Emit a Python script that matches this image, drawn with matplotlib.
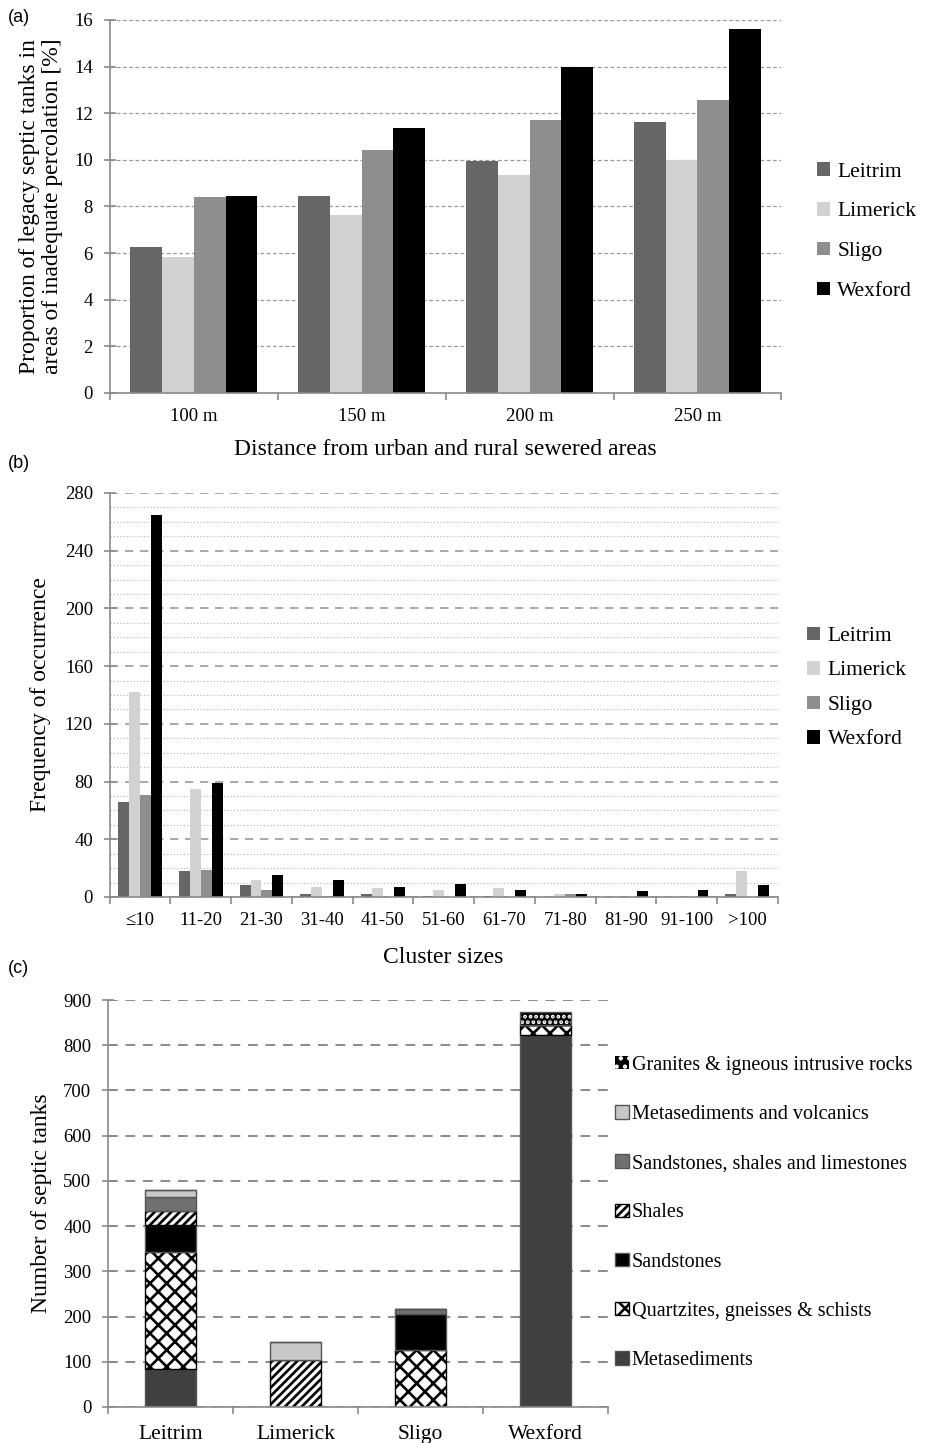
import numpy as np
import matplotlib
matplotlib.use("Agg")
import matplotlib.pyplot as plt

plt.rcParams['font.family'] = ['Liberation Serif', 'DejaVu Serif']
plt.rcParams['hatch.linewidth'] = 1.9

counties = ['Leitrim', 'Limerick', 'Sligo', 'Wexford']
county_colors = ['#666666', '#d2d2d2', '#8e8e8e', '#000000']

# (a) proportion of legacy septic tanks in areas of inadequate percolation [%]
distances = ['100 m', '150 m', '200 m', '250 m']
prop_leitrim = [6.25, 8.45, 9.95, 11.6]
prop_limerick = [5.85, 7.65, 9.35, 10.0]
prop_sligo = [8.4, 10.4, 11.7, 12.55]
prop_wexford = [8.45, 11.35, 14.0, 15.6]

# (b) frequency of occurrence by cluster size
clusters = ['\u226410', '11-20', '21-30', '31-40', '41-50', '51-60',
            '61-70', '71-80', '81-90', '91-100', '>100']
freq_leitrim = [66, 18, 8, 2, 2, 1, 1, 0, 0, 0, 2]
freq_limerick = [142, 75, 12, 7, 6, 5, 6, 2, 0, 0, 18]
freq_sligo = [71, 19, 5, 1, 0, 0, 0, 2, 0, 0, 0]
freq_wexford = [265, 79, 15, 12, 7, 9, 5, 2, 4, 5, 8]

# (c) number of septic tanks by bedrock type (bottom to top of the stack)
rocks = ['Metasediments', 'Quartzites, gneisses & schists', 'Sandstones',
         'Shales', 'Sandstones, shales and limestones',
         'Metasediments and volcanics', 'Granites & igneous intrusive rocks']
metasediments = [85, 0, 0, 822]
quartzites = [257, 0, 127, 23]
sandstones = [60, 0, 79, 0]
shales = [31, 105, 0, 0]
sst_sh_lst = [31, 0, 11, 0]
metased_volc = [15, 39, 0, 0]
granites = [0, 0, 0, 28]

axis_grey = '#8a8a8a'
tick_fs = 13.5
label_fs = 17
legend_fs = 15.5


def style_axes(ax, ncat, pad):
    for s in ['top', 'right']:
        ax.spines[s].set_visible(False)
    for s in ['left', 'bottom']:
        ax.spines[s].set_color(axis_grey)
        ax.spines[s].set_linewidth(1.2)
    ax.tick_params(axis='y', direction='inout', color=axis_grey, width=1.2, length=8,
                   labelsize=tick_fs, pad=8)
    ax.tick_params(axis='x', labelsize=tick_fs)
    ax.set_axisbelow(True)
    ax.set_xlim(-0.5, ncat - 0.5)
    ax.set_xticks(np.arange(ncat))
    ax.set_xticks(np.arange(-0.5, ncat, 1), minor=True)
    ax.tick_params(axis='x', which='major', length=0, pad=pad)
    ax.tick_params(axis='x', which='minor', direction='out', color=axis_grey,
                   width=1.2, length=5)


fig = plt.figure(figsize=(9.37, 14.43), dpi=100)

# ---------------- (a)
ax1 = fig.add_axes([0.117, 0.7277, 0.717, 0.2585])
style_axes(ax1, len(distances), 11)
x = np.arange(len(distances))
w = 0.19
for i, vals in enumerate([prop_leitrim, prop_limerick, prop_sligo, prop_wexford]):
    ax1.bar(x + (i - 1.5) * w, vals, w, color=county_colors[i], label=counties[i])
ax1.set_ylim(0, 16)
ax1.set_yticks(np.arange(0, 17, 2))
ax1.set_xticklabels(distances)
ax1.yaxis.grid(True, color='#9a9a9a', linestyle=(0, (3, 2)), linewidth=0.9)
ax1.set_ylabel('Proportion of legacy septic tanks in\nareas of inadequate percolation [%]',
               fontsize=label_fs, labelpad=8, linespacing=1.15)
ax1.set_xlabel('Distance from urban and rural sewered areas', fontsize=label_fs, labelpad=10)
fig.legend(*ax1.get_legend_handles_labels(), loc='center left',
           bbox_to_anchor=(0.851, 0.8395), frameon=False, fontsize=legend_fs,
           handlelength=0.6, handleheight=0.6, handletextpad=0.35,
           labelspacing=0.95)
fig.text(0.008, 0.985, '(a)', fontsize=13, family='Liberation Sans')

# ---------------- (b)
ax2 = fig.add_axes([0.117, 0.3784, 0.713, 0.28])
style_axes(ax2, len(clusters), 11)
x = np.arange(len(clusters))
w = 0.18
for i, vals in enumerate([freq_leitrim, freq_limerick, freq_sligo, freq_wexford]):
    ax2.bar(x + (i - 1.5) * w, vals, w, color=county_colors[i], label=counties[i])
ax2.set_ylim(0, 280)
ax2.set_yticks(np.arange(0, 281, 40))
ax2.set_yticks(np.arange(0, 281, 10), minor=True)
ax2.tick_params(axis='y', which='minor', length=0)
ax2.set_xticklabels(clusters)
ax2.yaxis.grid(True, which='minor', color='#b0b0b0', linestyle=(0, (1, 2)), linewidth=0.8)
ax2.yaxis.grid(True, which='major', color='#9a9a9a', linestyle=(0, (5, 4)), linewidth=1.2)
ax2.set_ylabel('Frequency of occurrence', fontsize=label_fs, labelpad=10)
ax2.set_xlabel('Cluster sizes', fontsize=label_fs, labelpad=13)
fig.legend(*ax2.get_legend_handles_labels(), loc='center left',
           bbox_to_anchor=(0.841, 0.5232), frameon=False, fontsize=legend_fs,
           handlelength=0.6, handleheight=0.6, handletextpad=0.35,
           labelspacing=0.7)
fig.text(0.008, 0.6755, '(b)', fontsize=13, family='Liberation Sans')

# ---------------- (c)
ax3 = fig.add_axes([0.1153, 0.02495, 0.5336, 0.282])
style_axes(ax3, len(counties), 13)
x = np.arange(len(counties))
w = 0.41
layers = [metasediments, quartzites, sandstones, shales, sst_sh_lst, metased_volc, granites]
faces = ['#404040', 'white', 'black', 'white', '#707070', '#c8c8c8', 'black']
hatches = [None, 'xx', None, '////', None, None, '...']
bottom = np.zeros(len(counties))
handles = []
for vals, fc, h, name in zip(layers, faces, hatches, rocks):
    vals = np.array(vals, dtype=float)
    if name.startswith('Granites'):
        # white dots on black
        ax3.bar(x, vals, w, bottom=bottom, color=fc, hatch=h, edgecolor='white', linewidth=0)
        ax3.bar(x, vals, w, bottom=bottom, fill=False, edgecolor='#555555', linewidth=1.0)
        hd = plt.Rectangle((0, 0), 1, 1, facecolor='black', edgecolor='white',
                           hatch='..', linewidth=0)
    else:
        ec = 'black' if h else '#555555'
        ax3.bar(x, vals, w, bottom=bottom, color=fc, hatch=h, edgecolor=ec, linewidth=1.0)
        hd = plt.Rectangle((0, 0), 1, 1, facecolor=fc, hatch=h, edgecolor=ec, linewidth=1.0)
    handles.append((hd, name))
    bottom += vals
ax3.set_ylim(0, 900)
ax3.set_yticks(np.arange(0, 901, 100))
ax3.set_xticklabels(counties, fontsize=15.5)
ax3.yaxis.grid(True, color='#8a8a8a', linestyle=(0, (5, 4)), linewidth=1.4)
ax3.set_ylabel('Number of septic tanks', fontsize=label_fs, labelpad=8)
hs = [h for h, _ in handles][::-1]
ls = [n for _, n in handles][::-1]
fig.legend(hs, ls, loc='center left', bbox_to_anchor=(0.6375, 0.1595),
           frameon=False, fontsize=14.5, handlelength=0.65, handleheight=0.65,
           handletextpad=0.15, labelspacing=1.5)
fig.text(0.008, 0.3255, '(c)', fontsize=13, family='Liberation Sans')

fig.savefig('out.png', dpi=100)
